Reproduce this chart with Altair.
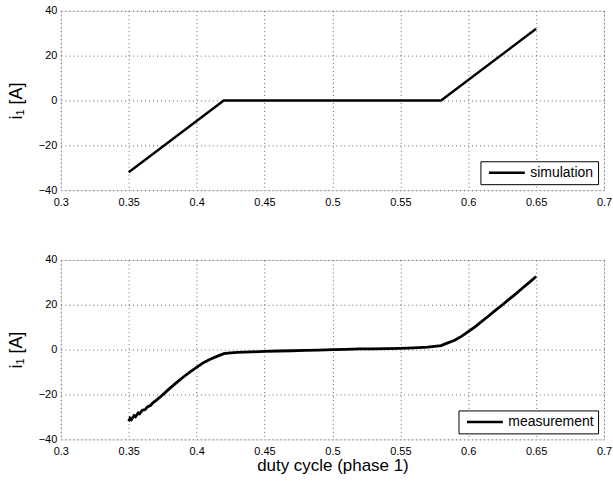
import altair as alt
import pandas as pd

# simulation series
sim_x = [0.35, 0.42, 0.58, 0.65]
sim_y = [-32.0, 0.0, 0.0, 32.0]

meas_x = [0.350, 0.351, 0.352, 0.354, 0.355, 0.357, 0.358, 0.360, 0.362, 0.364,
          0.366, 0.368, 0.370, 0.373, 0.376, 0.380, 0.385, 0.390, 0.395, 0.400,
          0.405, 0.410, 0.415, 0.420, 0.425, 0.430, 0.440, 0.450, 0.460, 0.470,
          0.480, 0.490, 0.500, 0.510, 0.520, 0.530, 0.540, 0.550, 0.560, 0.570,
          0.580, 0.585, 0.590, 0.595, 0.600, 0.605, 0.610, 0.615, 0.620, 0.625,
          0.630, 0.635, 0.640, 0.645, 0.650]
meas_y = [-32.0, -30.6, -31.2, -29.4, -29.9, -28.2, -28.6, -27.0, -26.8, -25.4,
          -24.9, -23.6, -22.7, -21.2, -19.6, -17.4, -14.8, -12.3, -10.0, -7.9,
          -5.8, -4.3, -3.0, -1.8, -1.4, -1.2, -1.0, -0.8, -0.6, -0.5,
          -0.3, -0.2, 0.0, 0.1, 0.3, 0.3, 0.5, 0.6, 0.8, 1.1,
          1.8, 3.0, 4.2, 5.9, 8.0, 10.2, 12.6, 15.0, 17.5, 19.9,
          22.4, 24.9, 27.5, 30.0, 32.6]

x_ticks = [0.3, 0.35, 0.4, 0.45, 0.5, 0.55, 0.6, 0.65, 0.7]
y_ticks = [-40, -20, 0, 20, 40]

sim_df = pd.DataFrame({"x": sim_x, "y": sim_y, "series": "simulation"})
meas_df = pd.DataFrame({"x": meas_x, "y": meas_y, "series": "measurement"})

FONT = "Liberation Sans"
W, H = 545, 180


def panel(df, name, xtitle, sw):
    xaxis = alt.Axis(values=x_ticks, format=".2~f", grid=True, gridDash=[1, 3],
                     gridColor="#444", gridOpacity=0.8, ticks=False, domain=False,
                     labelPadding=6, labelFontSize=11, labelFont=FONT,
                     labelColor="black", labelFlush=False, title=xtitle,
                     titleFont=FONT, titleFontSize=17, titleFontWeight="normal",
                     titleColor="black", titlePadding=1)
    yaxis = alt.Axis(values=y_ticks, grid=True, gridDash=[1, 3], gridColor="#444",
                     gridOpacity=0.8, ticks=False, domain=False, labelPadding=4,
                     labelFontSize=11, labelFont=FONT, labelColor="black",
                     title="i\u2081 [A]", titleFont=FONT, titleFontSize=18,
                     titleFontWeight="normal", titleColor="black", titlePadding=13)
    return alt.Chart(df).mark_line(strokeWidth=sw, color="black").encode(
        x=alt.X("x:Q", scale=alt.Scale(domain=[0.3, 0.7], nice=False), axis=xaxis),
        y=alt.Y("y:Q", scale=alt.Scale(domain=[-40, 40], nice=False), axis=yaxis),
        color=alt.Color("series:N", scale=alt.Scale(domain=[name], range=["black"]),
                        legend=alt.Legend(title=None, orient="bottom-right",
                                          offset=6, padding=4, strokeColor="black",
                                          fillColor="white",
                                          symbolType="M-3,0L3,0",
                                          symbolSize=144, symbolStrokeWidth=2.5,
                                          symbolOffset=15, labelOffset=16,
                                          labelFont=FONT, labelFontSize=14,
                                          labelColor="black")),
    ).properties(width=W, height=H)


top = panel(sim_df, "simulation", None, 2.4)
bottom = panel(meas_df, "measurement", "duty cycle (phase 1)", 2.8)

chart = alt.vconcat(top, bottom, spacing=70, bounds="flush").resolve_scale(
    color="independent").resolve_legend(color="independent").properties(
    padding={"left": 6, "top": 3, "right": 0, "bottom": 5},
).configure_view(stroke="black", strokeWidth=1.2).configure(background="white")

chart.save("out.html", embed_options={"renderer": "svg", "actions": False})
